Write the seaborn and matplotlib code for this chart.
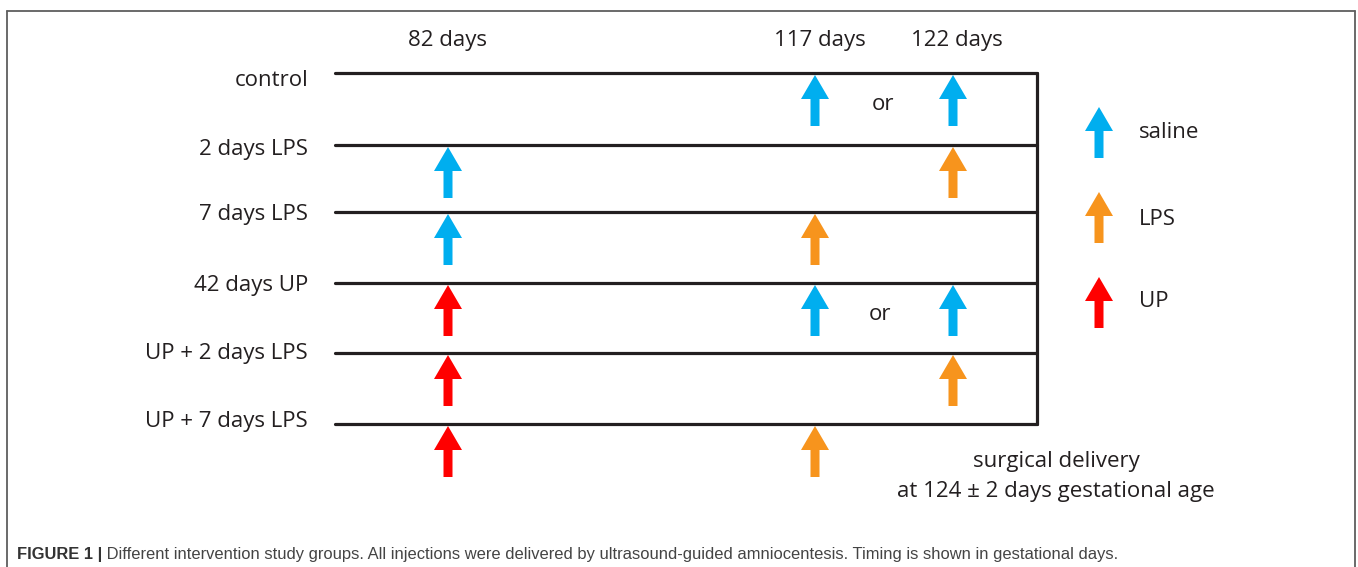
import matplotlib
matplotlib.use("Agg")
import matplotlib.pyplot as plt
import seaborn as sns
import pandas as pd

sns.set_theme(style="white")
plt.rcParams['font.family'] = ['Open Sans', 'DejaVu Sans']

# ---------------- data ----------------
groups = ["control", "2 days LPS", "7 days LPS", "42 days UP",
          "UP + 2 days LPS", "UP + 7 days LPS"]
timepoints = ["82 days", "117 days", "122 days"]
substances = ["saline", "LPS", "UP"]
# injections per group: (timepoint, substance)
inj_group = ["control", "control",
             "2 days LPS", "2 days LPS",
             "7 days LPS", "7 days LPS",
             "42 days UP", "42 days UP", "42 days UP",
             "UP + 2 days LPS", "UP + 2 days LPS",
             "UP + 7 days LPS", "UP + 7 days LPS"]
inj_time = ["117 days", "122 days",
            "82 days", "122 days",
            "82 days", "117 days",
            "82 days", "117 days", "122 days",
            "82 days", "122 days",
            "82 days", "117 days"]
inj_subst = ["saline", "saline",
             "saline", "LPS",
             "saline", "LPS",
             "UP", "saline", "saline",
             "UP", "LPS",
             "UP", "LPS"]
or_groups = ["control", "42 days UP"]
delivery_text = ["surgical delivery", "at 124 \u00b1 2 days gestational age"]
caption_bold = "FIGURE 1 |"
caption_text = (" Different intervention study groups. All injections were delivered by "
                "ultrasound-guided amniocentesis. Timing is shown in gestational days.")

# ---------------- layout ----------------
W, H = 1358, 567
row_y = dict(zip(groups, [73, 145, 212, 283, 353, 424]))
label_base = dict(zip(groups, [86, 155, 220, 291, 359, 427]))
col_x = dict(zip(timepoints, [448, 815, 953]))
head_x = dict(zip(timepoints, [448, 820, 957]))
or_base = dict(zip(or_groups, [110, 320]))
or_x = dict(zip(or_groups, [883, 880]))
colors = {"saline": "#00AEEF", "LPS": "#F7941D", "UP": "#FF0000"}
ink = "#231f20"
line_x0, line_x1 = 335, 1037
arrow_len, head_len, head_w, shaft_w = 51, 24, 28, 9
txt_size = 16

fig = plt.figure(figsize=(W / 100, H / 100), dpi=100)
ax = fig.add_axes([0, 0, 1, 1])

# timeline lines via seaborn
rows = []
for g in groups:
    rows.append({"unit": g, "x": line_x0, "y": row_y[g]})
    rows.append({"unit": g, "x": line_x1, "y": row_y[g]})
rows.append({"unit": "end", "x": line_x1, "y": row_y[groups[0]]})
rows.append({"unit": "end", "x": line_x1, "y": row_y[groups[-1]]})
lines_df = pd.DataFrame(rows)
sns.lineplot(data=lines_df, x="x", y="y", units="unit", estimator=None, sort=False,
             color=ink, linewidth=2.3, ax=ax, legend=False)
ax.set_xlim(0, W)
ax.set_ylim(H, 0)
ax.axis("off")


def up_arrow(x, tip_y, color):
    ax.arrow(x, tip_y + arrow_len, 0, -arrow_len, width=shaft_w, head_width=head_w,
             head_length=head_len, length_includes_head=True, color=color, linewidth=0)


inj_df = pd.DataFrame({"group": inj_group, "time": inj_time, "substance": inj_subst})
for _, r in inj_df.iterrows():
    up_arrow(col_x[r["time"]], row_y[r["group"]] + 2, colors[r["substance"]])

# labels
for g in groups:
    ax.text(308, label_base[g], g, ha="right", va="baseline", fontsize=txt_size, color=ink)
for t in timepoints:
    ax.text(head_x[t], 46, t, ha="center", va="baseline", fontsize=txt_size, color=ink)
for g in or_groups:
    ax.text(or_x[g], or_base[g], "or", ha="center", va="baseline", fontsize=txt_size, color=ink)

# legend
for s, tip, base in zip(substances, [107, 192, 277], [138, 225, 307]):
    up_arrow(1099, tip, colors[s])
    ax.text(1139, base, s, ha="left", va="baseline", fontsize=txt_size, color=ink)

ax.text(1056, 467, delivery_text[0], ha="center", va="baseline", fontsize=txt_size, color=ink)
ax.text(1056, 497, delivery_text[1], ha="center", va="baseline", fontsize=txt_size, color=ink)

# frame
frame_c = "#5e5e5e"
ax.plot([7, 7], [H, 11], color=frame_c, lw=1.3)
ax.plot([7, 1355], [11, 11], color=frame_c, lw=1.3)
ax.plot([1355, 1355], [11, H], color=frame_c, lw=1.3)

# caption
cap_fam = ['Liberation Sans', 'DejaVu Sans']
t1 = ax.text(17, 559, caption_bold, ha="left", va="baseline", fontsize=11.9,
             fontweight="bold", color="#333333", family=cap_fam)
fig.canvas.draw()
bb = t1.get_window_extent()
x_end = ax.transData.inverted().transform((bb.x1, bb.y0))[0]
ax.text(x_end, 559, caption_text, ha="left", va="baseline", fontsize=11.9,
        color="#444444", family=cap_fam)

fig.savefig("out.png", dpi=100)
